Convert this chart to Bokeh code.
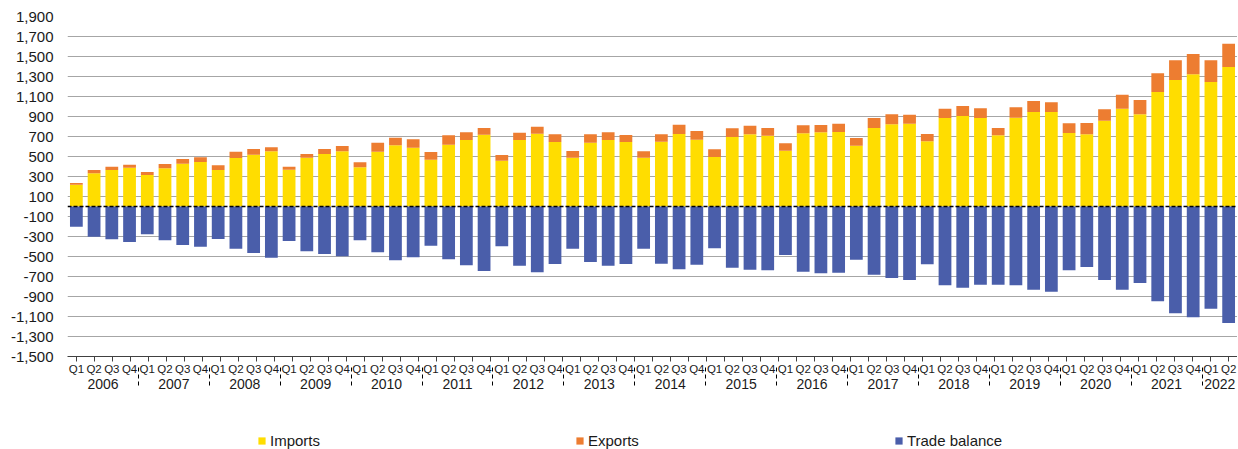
from bokeh.plotting import figure
from bokeh.layouts import column
from bokeh.models import (FactorRange, Range1d, CategoricalAxis, CategoricalTicker,
                          FixedTicker, NumeralTickFormatter, Span, Legend, LegendItem,
                          ColumnDataSource)
from bokeh.embed import file_html
from bokeh.resources import INLINE

years = [str(y) for y in range(2006, 2023)]
quarters = ["Q1", "Q2", "Q3", "Q4"]
periods = [(y, q) for y in years for q in quarters][:66]

imports = [218, 332, 365, 388, 315, 382, 428, 445, 365, 485, 518, 552,
           368, 488, 525, 552, 392, 548, 612, 588, 468, 618, 665, 718,
           458, 665, 728, 645, 488, 638, 665, 645, 488, 648, 725, 668,
           495, 695, 722, 708, 558, 732, 742, 745, 608, 785, 822, 828,
           652, 885, 905, 885, 712, 888, 945, 945, 735, 722, 858, 978,
           922, 1145, 1265, 1322, 1245, 1395]
exports = [17, 33, 33, 30, 30, 43, 47, 47, 47, 63, 57, 40,
           30, 37, 50, 53, 50, 90, 76, 84, 77, 94, 77, 67,
           57, 73, 70, 77, 67, 84, 77, 70, 64, 74, 93, 87,
           77, 87, 86, 77, 74, 80, 73, 83, 77, 100, 100, 90,
           73, 93, 100, 97, 73, 104, 110, 97, 97, 113, 114, 140,
           143, 187, 197, 203, 217, 233]
trade_balance = [-202, -302, -328, -355, -278, -338, -385, -402, -325, -422, -465, -512,
                 -345, -448, -475, -498, -338, -458, -538, -508, -392, -528, -588, -645,
                 -398, -592, -658, -575, -422, -555, -592, -575, -422, -572, -628, -582,
                 -418, -612, -632, -638, -485, -652, -668, -662, -532, -682, -715, -735,
                 -578, -788, -812, -782, -782, -788, -832, -852, -638, -605, -735, -832,
                 -765, -948, -1068, -1108, -1022, -1165]
series_names = ["Imports", "Exports", "Trade balance"]

y_ticks = list(range(-1500, 1901, 200))

YELLOW = "#FFDD00"
ORANGE = "#ED7D31"
BLUE = "#4A5EAA"
TEXT = "#1a1a1a"
FONT = "Liberation Sans"

src = ColumnDataSource(dict(period=periods, imports=imports, exports=exports,
                            balance=trade_balance))

p = figure(x_range=FactorRange(*periods, factor_padding=0, group_padding=0,
                               subgroup_padding=0, range_padding=0),
           y_range=Range1d(-1500, 1900),
           frame_width=1170, frame_height=340,
           x_axis_location=None, y_axis_location="left",
           output_backend="svg", toolbar_location=None,
           min_border_left=67, min_border_right=0, min_border_top=16, min_border_bottom=0)
p.outline_line_color = None
p.xgrid.grid_line_color = None
p.ygrid.grid_line_color = "#a6a6a6"
p.ygrid.grid_line_width = 1

yax = p.yaxis[0]
yax.ticker = FixedTicker(ticks=y_ticks)
yax.formatter = NumeralTickFormatter(format="0,0")
yax.axis_line_color = None
yax.major_tick_line_color = None
yax.minor_tick_line_color = None
yax.major_tick_out = 0
yax.major_tick_in = 0
yax.major_label_standoff = 14
yax.major_label_text_font = FONT
yax.major_label_text_font_size = "15px"
yax.major_label_text_color = TEXT

# boundary slots: one factor per edge between quarters, centred on the edges
boundaries = ["b%d" % i for i in range(len(periods) + 1)]
p.extra_x_ranges = {"edges": FactorRange(*boundaries, factor_padding=0,
                                         range_padding=-1,
                                         range_padding_units="absolute")}
tick_axis = CategoricalAxis(x_range_name="edges", ticker=CategoricalTicker(),
                            major_tick_in=0, major_tick_out=5,
                            minor_tick_line_color=None,
                            major_label_text_color=None, major_label_text_font_size="1px",
                            major_label_standoff=0,
                            axis_line_color="#404040", major_tick_line_color="#404040")
p.add_layout(tick_axis, "below")

cat_axis = CategoricalAxis(axis_line_color=None, major_tick_line_color=None,
                           minor_tick_line_color=None, major_tick_out=0, major_tick_in=0,
                           major_label_text_font=FONT, major_label_text_font_size="11.5px",
                           major_label_text_color=TEXT, major_label_standoff=1,
                           group_text_font=FONT, group_text_font_size="14px",
                           group_text_font_style="normal", group_text_color=TEXT,
                           separator_line_color="black", separator_line_dash="4 3",
                           separator_line_width=1)
p.add_layout(cat_axis, "below")

p.vbar_stack(["imports", "exports"], x="period", width=0.72,
             color=[YELLOW, ORANGE], line_color=None, source=src)
p.vbar(x="period", top="balance", bottom=0, width=0.72, color=BLUE,
       line_color=None, source=src)

p.add_layout(Span(location=0, dimension="width", line_color="black",
                  line_width=1.5, line_dash="4 2"))

# legend strip below the chart (same series, drawn out of view so only keys show)
lf = figure(width=1237, height=58,
            x_range=FactorRange(*periods, factor_padding=0, group_padding=0,
                                subgroup_padding=0, range_padding=0),
            y_range=Range1d(5000, 6000),
            x_axis_location=None, y_axis_location=None,
            output_backend="svg", toolbar_location=None,
            min_border_left=0, min_border_right=0, min_border_top=0, min_border_bottom=0)
lf.outline_line_color = None
lf.grid.grid_line_color = None
lstack = lf.vbar_stack(["imports", "exports"], x="period", width=0.72,
                       color=[YELLOW, ORANGE], line_color=None, source=src)
lbal = lf.vbar(x="period", top="balance", bottom=0, width=0.72, color=BLUE,
               line_color=None, source=src)
items = [LegendItem(label=name, renderers=[r])
         for name, r in zip(series_names, [lstack[0], lstack[1], lbal])]

legend = Legend(items=items, orientation="horizontal", location=(190, 0),
                margin=0, padding=0, spacing=255, glyph_width=9, glyph_height=9,
                label_standoff=4, label_height=17,
                label_text_font=FONT, label_text_font_size="15px",
                label_text_color=TEXT, border_line_color=None,
                background_fill_alpha=0)
lf.add_layout(legend, "center")

layout = column(p, lf, spacing=0)
open("out.html", "w").write(file_html(layout, INLINE))
